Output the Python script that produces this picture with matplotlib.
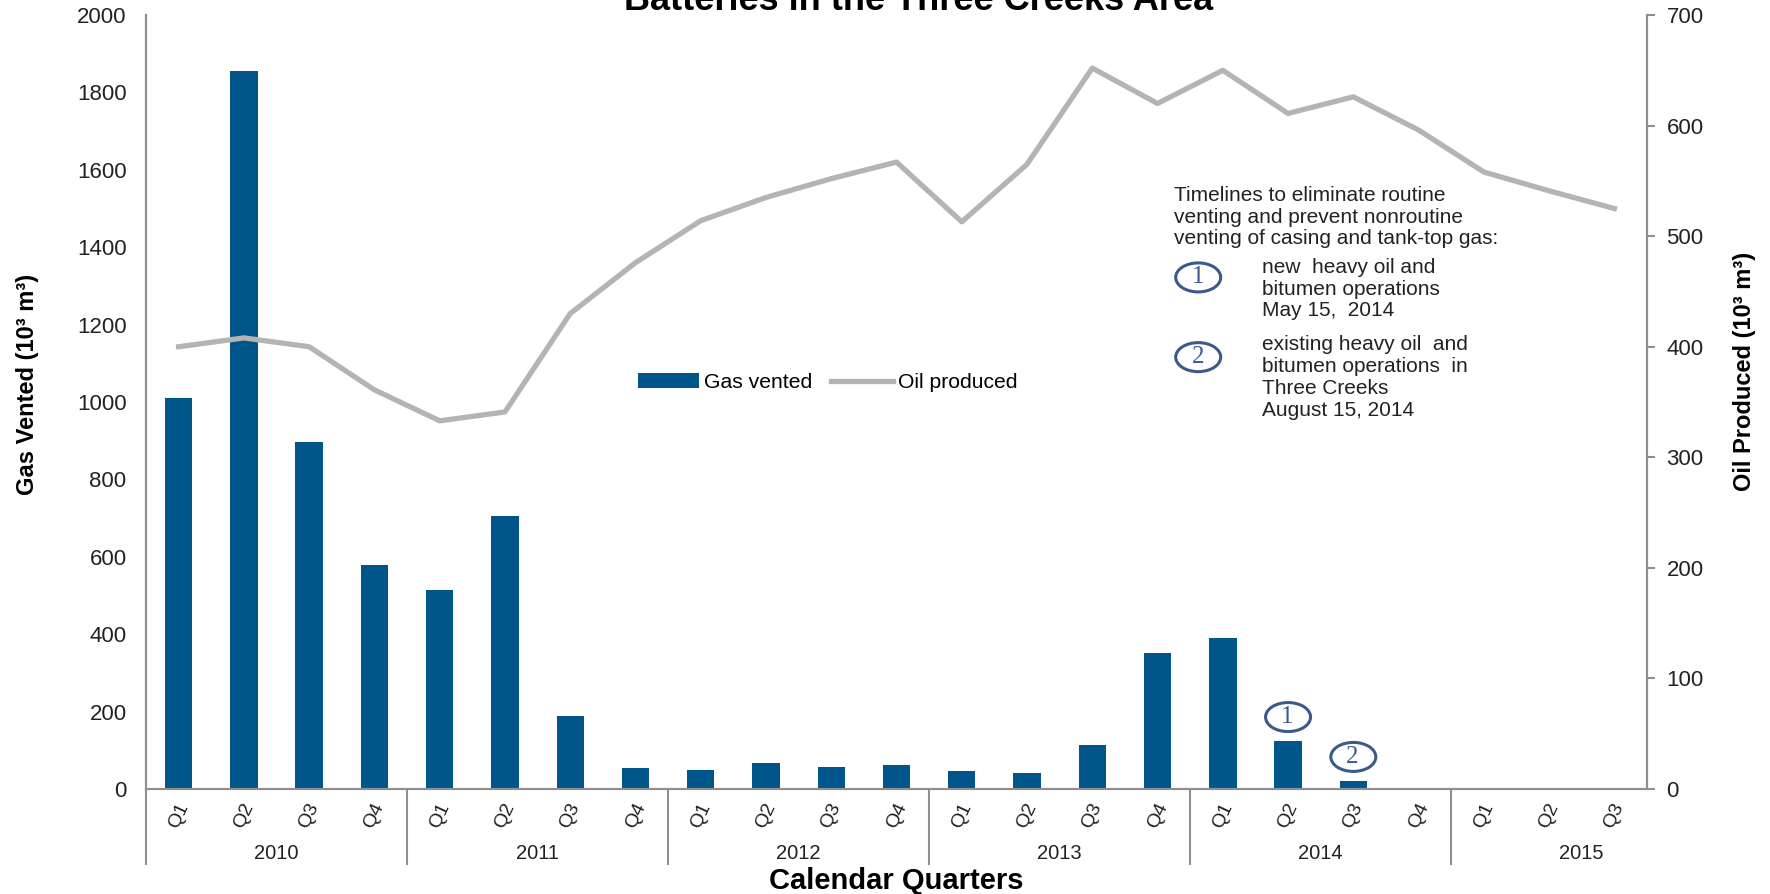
import numpy as np
import matplotlib
matplotlib.use('Agg')
import matplotlib.pyplot as plt
from matplotlib.patches import Ellipse

plt.rcParams['font.family'] = ['Liberation Sans', 'DejaVu Sans']

# --- data ---
years = ['2010', '2011', '2012', '2013', '2014', '2015']
quarters = ['Q1', 'Q2', 'Q3', 'Q4'] * 5 + ['Q1', 'Q2', 'Q3']
gas_vented = [1010, 1855, 898, 580,
              515, 705, 190, 55,
              50, 67, 58, 61,
              47, 41, 114, 351,
              389, 123, 20, 0,
              0, 0, 3]
oil_produced = [400, 408, 400, 361,
                333, 341, 430, 476,
                514, 535, 552, 567,
                513, 565, 652, 620,
                650, 611, 626, 596,
                558, 541, 525]
milestones = [(17, '1'), (18, '2')]  # (quarter index, label)

bar_col = '#00558b'
line_col = '#b4b4b4'
spine_col = '#8f8f8f'
ring_col = '#3a5a8c'
txt_col = '#222222'

fg = plt.figure(figsize=(17.7, 8.94), dpi=100)
ax1 = fg.add_axes([0.0825, 0.1174, 0.848, 0.8658])
ax2 = ax1.twinx()

x = np.arange(len(quarters))
ax1.bar(x, gas_vented, width=0.42, color=bar_col, label='Gas vented', zorder=2)
ax2.plot(x, oil_produced, color=line_col, lw=3.8, label='Oil produced', zorder=3)

ax1.set_xlim(-0.5, len(quarters) - 0.5)
ax1.set_ylim(0, 2000)
ax2.set_ylim(0, 700)
ax1.set_yticks(np.arange(0, 2001, 200))
ax2.set_yticks(np.arange(0, 701, 100))

for a in (ax1, ax2):
    a.spines['top'].set_visible(False)
    for s in ('left', 'right', 'bottom'):
        a.spines[s].set_color(spine_col)
        a.spines[s].set_linewidth(1.5)
ax1.tick_params(axis='y', length=0, labelsize=16, pad=14, labelcolor=txt_col)
ax2.tick_params(axis='y', length=6, width=1.5, color=spine_col, labelsize=16,
                pad=8, labelcolor=txt_col)

# quarter labels, year labels, separators
ax1.set_xticks(x)
ax1.set_xticklabels(quarters, rotation=65, fontsize=14, color=txt_col,
                    ha='center', va='center')
ax1.tick_params(axis='x', length=0, pad=19)
trans = ax1.get_xaxis_transform()
for i, yr in enumerate(years):
    start = 4 * i
    ax1.plot([start - 0.5, start - 0.5], [0, -0.097], transform=trans,
             color=spine_col, lw=1.5, clip_on=False)
    ax1.text(start + 1.5, -0.083, yr, transform=trans, ha='center', va='center',
             fontsize=14.5, color=txt_col)

ax1.text(0.5, -0.119, 'Calendar Quarters', transform=ax1.transAxes,
         ha='center', va='center', fontsize=21, fontweight='bold')
ax1.set_ylabel('Gas Vented (10³ m³)', fontsize=17, fontweight='bold')
ax1.yaxis.set_label_coords(-0.071, 0.523)
ax2.set_ylabel('Oil Produced (10³ m³)', fontsize=17, fontweight='bold')
ax2.yaxis.set_label_coords(1.0575, 0.54)

fg.text(0.519, 0.989, 'Batteries in the Three Creeks Area', ha='center',
        va='baseline', fontsize=26, fontweight='bold')

# legend
h1, l1 = ax1.get_legend_handles_labels()
h2, l2 = ax2.get_legend_handles_labels()
ax1.legend(h1 + h2, l1 + l2, loc='center', bbox_to_anchor=(0.454, 0.525),
           ncol=2, frameon=False, fontsize=15.2, handlelength=2.9,
           handletextpad=0.25, columnspacing=0.9)

# milestone rings above bars (size in pixels -> data units)
px_x = ax1.get_position().width * 1770 / len(quarters)
px_y = ax1.get_position().height * 894 / 2000.0
for idx, lab in milestones:
    yc = gas_vented[idx] + 63
    ax1.add_patch(Ellipse((idx, yc), 45 / px_x, 29 / px_y, fc='white',
                          ec=ring_col, lw=2.2, zorder=4, clip_on=False))
    ax1.text(idx - 0.02, yc, lab, ha='center', va='center', fontsize=18,
             family='Liberation Serif', color=ring_col, zorder=5)

# timeline note
ax1.text(0.685, 0.779, 'Timelines to eliminate routine\nventing and prevent nonroutine\n'
         'venting of casing and tank-top gas:', transform=ax1.transAxes,
         ha='left', va='top', fontsize=15, linespacing=1.18, color=txt_col)
for yk, lab in ((0.661, '1'), (0.558, '2')):
    ax1.add_patch(Ellipse((0.701, yk), 45 / 1501, 29 / 774, transform=ax1.transAxes,
                          fc='white', ec=ring_col, lw=2.2, zorder=4))
    ax1.text(0.701, yk, lab, transform=ax1.transAxes, ha='center', va='center',
             fontsize=18, family='Liberation Serif', color=ring_col, zorder=5)
ax1.text(0.7435, 0.686, 'new  heavy oil and\nbitumen operations\nMay 15,  2014',
         transform=ax1.transAxes, ha='left', va='top', fontsize=15,
         linespacing=1.18, color=txt_col)
ax1.text(0.7435, 0.586, 'existing heavy oil  and\nbitumen operations  in\n'
         'Three Creeks\nAugust 15, 2014', transform=ax1.transAxes, ha='left',
         va='top', fontsize=15, linespacing=1.18, color=txt_col)

fg.savefig('out.png', dpi=100)
